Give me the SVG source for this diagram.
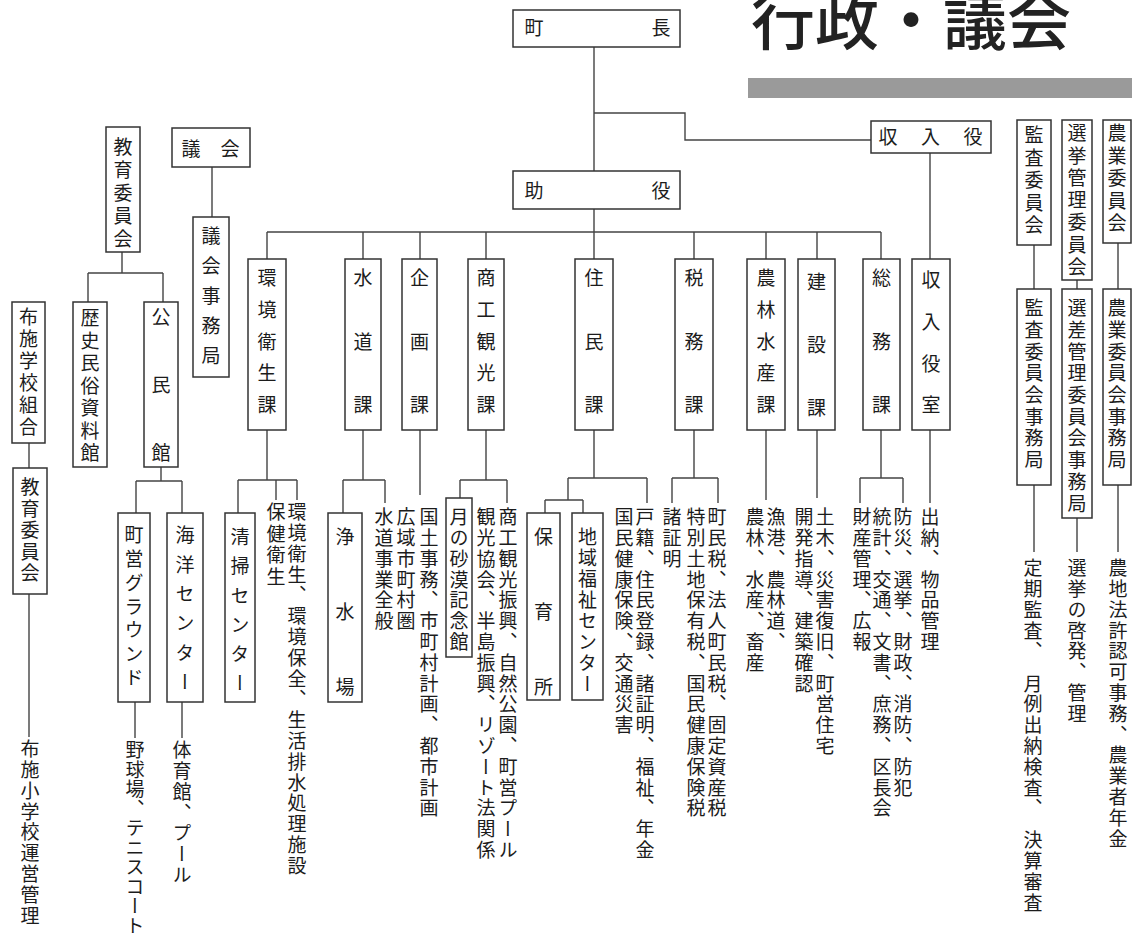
<svg xmlns="http://www.w3.org/2000/svg" width="1132" height="935" viewBox="0 0 1132 935">
<style>
.b{fill:#fff;stroke:#333;stroke-width:1.5}
.c{fill:none;stroke:#444;stroke-width:1.4}
.t{font-family:"Noto Sans CJK JP","Noto Sans CJK SC",sans-serif;fill:#1c1c1c;font-size:19px}
.v{writing-mode:vertical-rl}
.d{letter-spacing:1.8px}
.ttl{font-family:"Noto Sans CJK JP","Noto Sans CJK SC",sans-serif;fill:#222;font-size:64px;font-weight:500}
</style>
<rect width="1132" height="935" fill="#fff"/>
<text class="ttl" x="751" y="44">行政・議会</text>
<rect x="748" y="78" width="384" height="20" fill="#9a9a9a"/>

<g id="connectors">
<path class="c" d="M594,47V171 M594,113H685V140H871 M930,153V259 M594,209V232 M267,232H881
M267,232V259 M363,232V259 M420,232V259 M486,232V259 M594,232V259 M694,232V259 M766,232V259 M817,232V259 M881,232V259
M212,167V217 M122,252V273 M88,273H163 M88,273V302 M163,273V302 M29,443V468 M29,594V737
M161,467V481 M136,481H182 M136,481V513 M182,481V513 M135,702V738 M182,702V738
M267,430V480 M238,480H297 M238,480V513 M276,480V500 M297,480V500
M363,430V480 M343,480H385 M343,480V513 M385,480V503
M420,430V495
M486,430V480 M460,480H507 M460,480V498 M507,480V503
M594,430V478 M568,478H647 M647,478V503 M568,478V500 M545,500H583 M545,500V513 M583,500V513
M694,430V478 M672,478H718 M672,478V503 M718,478V503
M766,430V500 M817,430V498
M881,430V478 M860,478H903 M860,478V503 M903,478V503
M930,430V503
M1034,245V289 M1034,485V552 M1077,280V289 M1077,518V552 M1118,243V289 M1118,485V552"/>
</g>

<g id="n-chocho"><rect class="b" x="513" y="10" width="167" height="37"/><text class="t" x="524.5 651.5" y="35">町長</text></g>
<g id="n-joyaku"><rect class="b" x="513" y="171" width="167" height="38"/><text class="t" x="524.5 651.5" y="198">助役</text></g>
<g id="n-shunyuyaku"><rect class="b" x="871" y="121" width="120" height="32"/><text class="t" x="878.5 921 963.5" y="144">収入役</text></g>
<g id="n-gikai"><rect class="b" x="172" y="128" width="78" height="39"/><text class="t" x="181.5 220.5" y="156">議会</text></g>
<g id="n-gikaijimu"><rect class="b" x="193" y="217" width="36" height="160"/><text class="t v" x="211" y="226.5" style="letter-spacing:11px">議会事務局</text></g>
<g id="n-kyoiku1"><rect class="b" x="106" y="127" width="34" height="125"/><text class="t v" x="123" y="137.5" style="letter-spacing:4px">教育委員会</text></g>
<g id="n-rekishi"><rect class="b" x="73" y="302" width="34" height="165"/><text class="t v" x="90" y="308.5" style="letter-spacing:3.5px">歴史民俗資料館</text></g>
<g id="n-kominkan"><rect class="b" x="144" y="302" width="34" height="165"/><text class="t v" x="161" y="307.5" style="letter-spacing:49px">公民館</text></g>
<g id="n-fuseko"><rect class="b" x="12" y="302" width="33" height="141"/><text class="t v" x="28.5" y="307.5" style="letter-spacing:3px">布施学校組合</text></g>
<g id="n-kyoiku2"><rect class="b" x="13" y="468" width="34" height="126"/><text class="t v" x="30" y="477.5" style="letter-spacing:2.5px">教育委員会</text></g>
<g id="n-ground"><rect class="b" x="118" y="513" width="32" height="189"/><text class="t v" x="134" y="525.5" style="letter-spacing:4.8px">町営グラウンド</text></g>
<g id="n-kaiyo"><rect class="b" x="167" y="513" width="36" height="189"/><text class="t v" x="185" y="525.5" style="letter-spacing:10.4px">海洋センター</text></g>
<g id="n-seiso"><rect class="b" x="225" y="513" width="30" height="189"/><text class="t v" x="240" y="527.5" style="letter-spacing:10.2px">清掃センター</text></g>
<g id="n-josui"><rect class="b" x="328" y="513" width="34" height="189"/><text class="t v" x="345" y="527.5" style="letter-spacing:56px">浄水場</text></g>
<g id="n-sabaku"><rect class="b" x="446" y="498" width="26" height="159"/><text class="t v" x="459" y="507.5" style="letter-spacing:1.8px">月の砂漠記念館</text></g>
<g id="n-hoiku"><rect class="b" x="527" y="513" width="33" height="187"/><text class="t v" x="543.5" y="527.5" style="letter-spacing:56px">保育所</text></g>
<g id="n-fukushi"><rect class="b" x="572" y="513" width="31" height="187"/><text class="t v" x="587.5" y="527.5" style="letter-spacing:1.9px">地域福祉センター</text></g>
<g id="n-kankyo"><rect class="b" x="248" y="259" width="38" height="171"/><text class="t v" x="267" y="268.5" style="letter-spacing:12.75px">環境衛生課</text></g>
<g id="n-suido"><rect class="b" x="345" y="259" width="36" height="171"/><text class="t v" x="363" y="268.5" style="letter-spacing:44.5px">水道課</text></g>
<g id="n-kikaku"><rect class="b" x="402" y="259" width="35" height="171"/><text class="t v" x="419.5" y="268.5" style="letter-spacing:44.5px">企画課</text></g>
<g id="n-shoko"><rect class="b" x="468" y="259" width="36" height="171"/><text class="t v" x="486" y="268.5" style="letter-spacing:12.75px">商工観光課</text></g>
<g id="n-jumin"><rect class="b" x="575" y="259" width="38" height="171"/><text class="t v" x="594" y="268.5" style="letter-spacing:44.5px">住民課</text></g>
<g id="n-zeimu"><rect class="b" x="675" y="259" width="38" height="171"/><text class="t v" x="694" y="268.5" style="letter-spacing:44.5px">税務課</text></g>
<g id="n-norin"><rect class="b" x="747" y="259" width="38" height="171"/><text class="t v" x="766" y="268.5" style="letter-spacing:12.75px">農林水産課</text></g>
<g id="n-kensetsu"><rect class="b" x="798" y="259" width="37" height="171"/><text class="t v" x="816.5" y="272.5" style="letter-spacing:44px">建設課</text></g>
<g id="n-somu"><rect class="b" x="863" y="259" width="37" height="171"/><text class="t v" x="881.5" y="268.5" style="letter-spacing:44.5px">総務課</text></g>
<g id="n-shunyushitsu"><rect class="b" x="912" y="259" width="38" height="171"/><text class="t v" x="931" y="270.5" style="letter-spacing:22.7px">収入役室</text></g>
<g id="n-kansa"><rect class="b" x="1017" y="120" width="34" height="125"/><text class="t v" x="1034" y="125.5" style="letter-spacing:3.5px">監査委員会</text></g>
<g id="n-kansajimu"><rect class="b" x="1017" y="289" width="34" height="196"/><text class="t v" x="1034" y="298.5" style="letter-spacing:2.7px">監査委員会事務局</text></g>
<g id="n-senkyo"><rect class="b" x="1062" y="120" width="30" height="160"/><text class="t v" x="1077" y="123.5" style="letter-spacing:3.3px">選挙管理委員会</text></g>
<g id="n-senkyojimu"><rect class="b" x="1062" y="289" width="30" height="229"/><text class="t v" x="1077" y="298.5" style="letter-spacing:2.7px">選差管理委員会事務局</text></g>
<g id="n-nogyo"><rect class="b" x="1103" y="120" width="28" height="123"/><text class="t v" x="1117" y="123.5" style="letter-spacing:3.5px">農業委員会</text></g>
<g id="n-nogyojimu"><rect class="b" x="1103" y="289" width="28" height="196"/><text class="t v" x="1117" y="298.5" style="letter-spacing:2.7px">農業委員会事務局</text></g>

<g id="duties">
<text class="t v d" x="30" y="739.5">布施小学校運営管理</text>
<text class="t v" x="135" y="740.5" style="letter-spacing:0.5px">野球場、テニスコート</text>
<text class="t v d" x="182" y="740.5">体育館、プール</text>
<text class="t v" x="276" y="502.5" style="letter-spacing:2.5px">保健衛生</text>
<text class="t v d" x="297" y="502.5">環境衛生、環境保全、生活排水処理施設</text>
<text class="t v d" x="384" y="507.5">水道事業全般</text>
<text class="t v d" x="406" y="507.5">広域市町村圏</text>
<text class="t v d" x="429" y="507.5">国土事務、市町村計画、都市計画</text>
<text class="t v d" x="486" y="507.5">観光協会、半島振興、リゾート法関係</text>
<text class="t v d" x="508" y="507.5">商工観光振興、自然公園、町営プール</text>
<text class="t v d" x="624" y="507.5">国民健康保険、交通災害</text>
<text class="t v d" x="645" y="507.5">戸籍、住民登録、諸証明、福祉、年金</text>
<text class="t v d" x="672" y="507.5">諸証明</text>
<text class="t v d" x="696" y="507.5">特別土地保有税、国民健康保険税</text>
<text class="t v d" x="717" y="507.5">町民税、法人町民税、固定資産税</text>
<text class="t v d" x="755" y="507.5">農林、水産、畜産</text>
<text class="t v d" x="776" y="507.5">漁港、農林道、</text>
<text class="t v d" x="804" y="507.5">開発指導、建築確認</text>
<text class="t v d" x="825" y="507.5">土木、災害復旧、町営住宅</text>
<text class="t v d" x="862" y="507.5">財産管理、広報</text>
<text class="t v d" x="882" y="507.5">統計、交通、文書、庶務、区長会</text>
<text class="t v d" x="903" y="507.5">防災、選挙、財政、消防、防犯</text>
<text class="t v d" x="930" y="507.5">出納、物品管理</text>
<text class="t v d" x="1033" y="558.5">定期監査、　月例出納検査、　決算審査</text>
<text class="t v d" x="1077" y="558.5">選挙の啓発、管理</text>
<text class="t v d" x="1118" y="558.5">農地法許認可事務、農業者年金</text>
</g>
</svg>
